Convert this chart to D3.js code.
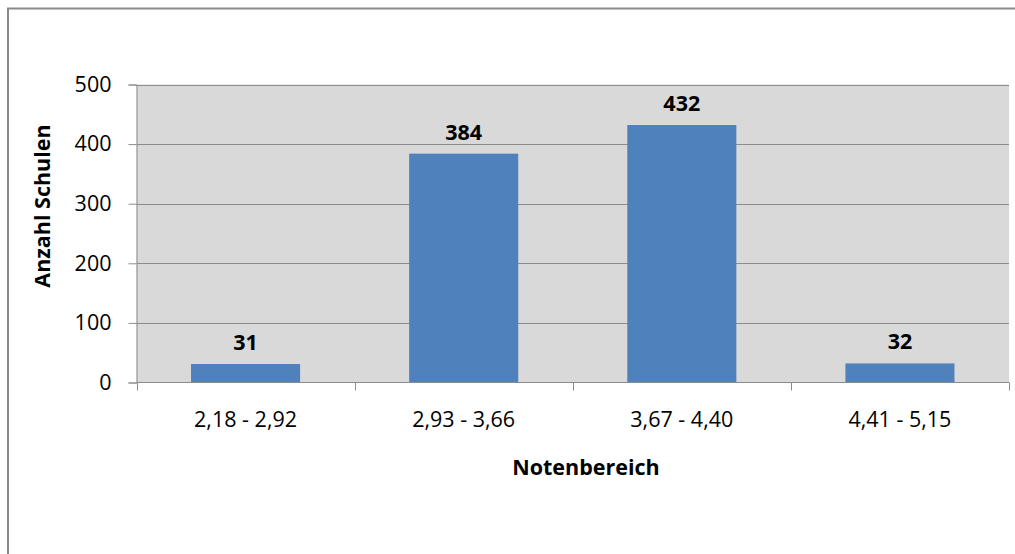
<!DOCTYPE html>
<html>
<head>
<meta charset="utf-8">
<script src="https://cdn.jsdelivr.net/npm/d3@7"></script>
<style>
  body { margin: 0; background: #fff; }
  text { font-family: "Open Sans", sans-serif; fill: #000; }
</style>
</head>
<body>
<script>
// data
var categories = ['2,18 - 2,92', '2,93 - 3,66', '3,67 - 4,40', '4,41 - 5,15'];
var counts = [31, 384, 432, 32];
var yTicks = [0, 100, 200, 300, 400, 500];

var width = 1015,
    height = 554;

var plot = { left: 136.5, right: 1009, top: 84.5, bottom: 382.5 };
var fontSize = 21.5;

var svg = d3.select('body')
  .append('svg')
  .attr('width', width)
  .attr('height', height);

// outer chart border
svg.append('rect')
  .attr('x', 8)
  .attr('y', 8.5)
  .attr('width', 1020)
  .attr('height', 560)
  .attr('fill', '#fff')
  .attr('stroke', '#8a8a8a')
  .attr('stroke-width', 2);

var x = d3.scaleBand()
  .domain(categories)
  .range([plot.left, plot.right])
  .paddingInner(0.5)
  .paddingOuter(0.25);

var y = d3.scaleLinear()
  .domain([0, 500])
  .range([plot.bottom, plot.top]);

// plot background
svg.append('rect')
  .attr('x', plot.left)
  .attr('y', plot.top)
  .attr('width', plot.right - plot.left)
  .attr('height', plot.bottom - plot.top)
  .attr('fill', '#d9d9d9');

// gridlines
svg.append('g')
  .selectAll('line')
  .data(yTicks.filter(function(d) { return d > 0; }))
  .enter().append('line')
  .attr('x1', plot.left)
  .attr('x2', plot.right)
  .attr('y1', function(d) { return Math.round(y(d)) + 0.5; })
  .attr('y2', function(d) { return Math.round(y(d)) + 0.5; })
  .attr('stroke', '#8c8c8c')
  .attr('stroke-width', 1);

// bars
svg.append('g')
  .selectAll('rect')
  .data(counts)
  .enter().append('rect')
  .attr('x', function(d, i) { return x(categories[i]); })
  .attr('y', function(d) { return y(d); })
  .attr('width', x.bandwidth())
  .attr('height', function(d) { return y(0) - y(d); })
  .attr('fill', '#4f81bd');

// value labels
svg.append('g')
  .selectAll('text')
  .data(counts)
  .enter().append('text')
  .attr('x', function(d, i) { return x(categories[i]) + x.bandwidth() / 2; })
  .attr('y', function(d) { return y(d) - 14; })
  .attr('text-anchor', 'middle')
  .attr('font-size', fontSize)
  .attr('font-weight', 'bold')
  .text(function(d) { return d; });

// y axis
var yAxis = d3.axisLeft(y)
  .tickValues(yTicks)
  .tickSize(8)
  .tickPadding(17)
  .tickFormat(d3.format('d'));

var gy = svg.append('g')
  .attr('transform', 'translate(' + plot.left + ',0)')
  .call(yAxis);
gy.select('.domain').attr('stroke', '#8c8c8c');
gy.selectAll('.tick line').attr('stroke', '#8c8c8c');
gy.selectAll('.tick text')
  .attr('font-size', fontSize)
  .attr('font-family', '"Open Sans", sans-serif')
  .attr('fill', '#000');

// x axis with ticks at category boundaries
var bounds = d3.range(categories.length + 1).map(function(i) {
  return plot.left + i * (plot.right - plot.left) / categories.length;
});
var gx = svg.append('g');
gx.append('line')
  .attr('x1', plot.left)
  .attr('x2', plot.right)
  .attr('y1', plot.bottom)
  .attr('y2', plot.bottom)
  .attr('stroke', '#8c8c8c');
gx.selectAll('line.tick')
  .data(bounds)
  .enter().append('line')
  .attr('class', 'tick')
  .attr('x1', function(d) { return Math.round(d) + 0.5; })
  .attr('x2', function(d) { return Math.round(d) + 0.5; })
  .attr('y1', plot.bottom)
  .attr('y2', plot.bottom + 8)
  .attr('stroke', '#8c8c8c');
gx.selectAll('text')
  .data(categories)
  .enter().append('text')
  .attr('x', function(d) { return x(d) + x.bandwidth() / 2; })
  .attr('y', 426.5)
  .attr('text-anchor', 'middle')
  .attr('font-size', fontSize)
  .text(function(d) { return d; });

// axis titles
svg.append('text')
  .attr('x', 586)
  .attr('y', 475)
  .attr('text-anchor', 'middle')
  .attr('font-size', fontSize)
  .attr('font-weight', 'bold')
  .text('Notenbereich');

svg.append('text')
  .attr('transform', 'translate(50,206) rotate(-90)')
  .attr('text-anchor', 'middle')
  .attr('font-size', fontSize)
  .attr('font-weight', 'bold')
  .text('Anzahl Schulen');
</script>
</body>
</html>
